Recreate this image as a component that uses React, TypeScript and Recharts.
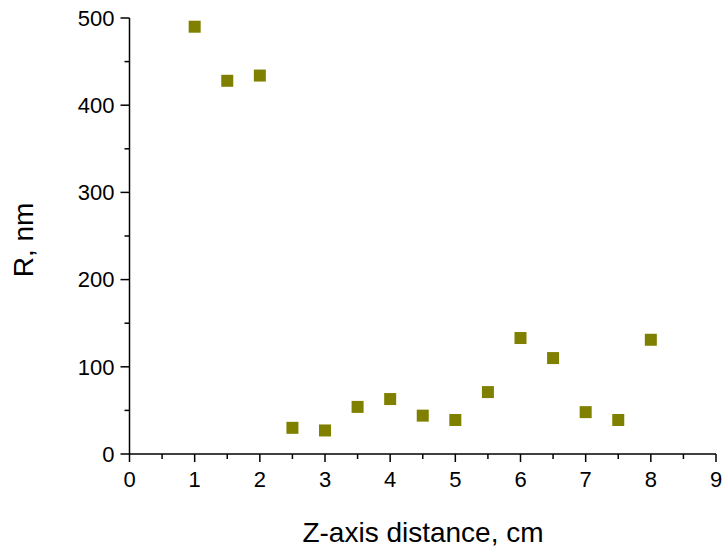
import { Scatter, ScatterChart, XAxis, YAxis } from 'recharts'

// Z-axis distance (cm) and measured R (nm)
const distance = [1, 1.5, 2, 2.5, 3, 3.5, 4, 4.5, 5, 5.5, 6, 6.5, 7, 7.5, 8]
const radius = [490, 428, 434, 30, 27, 54, 63, 44, 39, 71, 133, 110, 48, 39, 131]

const xTicks = [0, 0.5, 1, 1.5, 2, 2.5, 3, 3.5, 4, 4.5, 5, 5.5, 6, 6.5, 7, 7.5, 8, 8.5, 9]
const xLabels = [0, 1, 2, 3, 4, 5, 6, 7, 8, 9]
const yTicks = [0, 50, 100, 150, 200, 250, 300, 350, 400, 450, 500]
const yLabels = [0, 100, 200, 300, 400, 500]

const points = distance.map((z, i) => ({ z, r: radius[i] }))

const FONT = '"Liberation Sans", Arial, sans-serif'

const XTick = (props: any) => {
  const { x, y, payload } = props
  const major = xLabels.includes(payload.value)
  return (
    <g>
      <line x1={x} x2={x} y1={y - 17} y2={y - 17 + (major ? 8 : 5)} stroke="#000" strokeWidth={1.5} />
      {major && (
        <text x={x} y={y} dy="0.71em" textAnchor="middle" fontSize={22} fontFamily={FONT} fill="#000">
          {payload.value}
        </text>
      )}
    </g>
  )
}

const YTick = (props: any) => {
  const { x, y, payload } = props
  const major = yLabels.includes(payload.value)
  return (
    <g>
      <line x1={x + 15 - (major ? 9 : 5)} x2={x + 15} y1={y} y2={y} stroke="#000" strokeWidth={1.5} />
      {major && (
        <text x={x} y={y} dy="0.355em" textAnchor="end" fontSize={22} fontFamily={FONT} fill="#000">
          {payload.value}
        </text>
      )}
    </g>
  )
}

const Square = (props: any) => (
  <rect x={props.cx - 6} y={props.cy - 6} width={12} height={12} fill="#808000" />
)

export default function App() {
  return (
    <div style={{ position: 'absolute', left: 0, top: 0, background: '#fff' }}>
      <ScatterChart
        width={722}
        height={549}
        margin={{ top: 18, right: 6, bottom: 0, left: 0 }}
        style={{ fontFamily: FONT }}
      >
        <XAxis
          type="number"
          dataKey="z"
          domain={[0, 9]}
          ticks={xTicks}
          interval={0}
          height={95}
          tickSize={0}
          tickMargin={17}
          tickLine={false}
          tick={<XTick />}
          axisLine={{ stroke: '#000', strokeWidth: 1.5 }}
        />
        <YAxis
          type="number"
          dataKey="r"
          domain={[0, 500]}
          ticks={yTicks}
          interval={0}
          width={129.5}
          tickSize={0}
          tickMargin={15}
          tickLine={false}
          tick={<YTick />}
          axisLine={{ stroke: '#000', strokeWidth: 1.5 }}
        />
        <Scatter data={points} shape={<Square />} isAnimationActive={false} />
      </ScatterChart>
      <svg
        width={722}
        height={549}
        style={{ position: 'absolute', left: 0, top: 0, pointerEvents: 'none' }}
      >
        <text
          x={33}
          y={240}
          transform="rotate(-90 33 240)"
          textAnchor="middle"
          fontSize={28}
          fontFamily={FONT}
          fill="#000"
        >
          R, nm
        </text>
        <text x={423} y={541.5} textAnchor="middle" fontSize={28} fontFamily={FONT} fill="#000">
          Z-axis distance, cm
        </text>
      </svg>
    </div>
  )
}
